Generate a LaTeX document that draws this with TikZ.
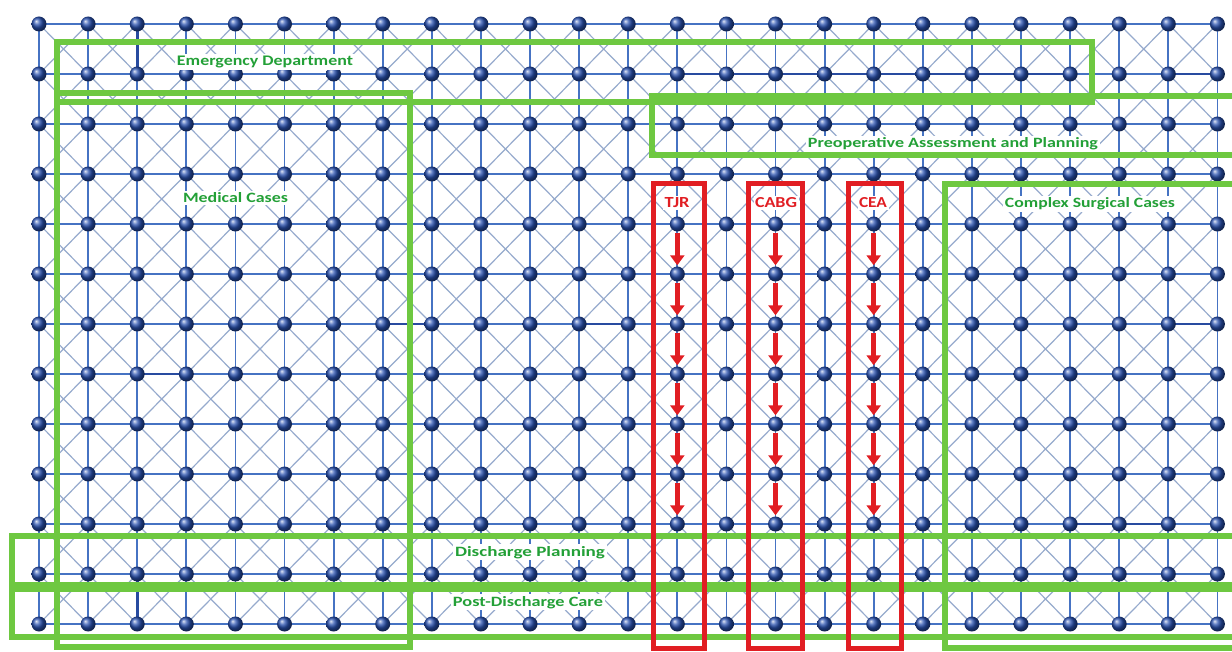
\documentclass[tikz,border=0pt]{standalone}
\usepackage{fontspec}
\setmainfont{Carlito}
\usetikzlibrary{arrows.meta}
\definecolor{gridblue}{RGB}{70,115,195}
\definecolor{darkgrid}{RGB}{40,75,160}
\definecolor{diagblue}{RGB}{150,170,205}
\definecolor{ballblue}{RGB}{40,80,175}
\definecolor{boxgreen}{RGB}{110,200,65}
\definecolor{txtgreen}{RGB}{35,160,55}
\definecolor{boxred}{RGB}{225,30,35}
\begin{document}
\begin{tikzpicture}[x=1pt,y=-1pt,
  gridline/.style={draw=gridblue,line width=1.8pt},
  darkline/.style={draw=darkgrid,line width=2.6pt},
  diagline/.style={draw=diagblue,line width=1.2pt},
  ball/.style={circle,inner sep=0pt,minimum size=15pt,shading=ball,ball color=ballblue},
  greenbox/.style={draw=boxgreen,line width=6pt},
  redbox/.style={draw=boxred,line width=5pt},
  grlabel/.style={fill=white,text=txtgreen,font=\bfseries,inner sep=2pt,anchor=base},
  rdlabel/.style={fill=white,text=boxred,font=\bfseries,inner sep=1.5pt,anchor=base},
  flow/.style={draw=boxred,line width=5.5pt,-{Triangle[width=14pt,length=10pt]},shorten <=1pt,shorten >=1pt}
]
\useasboundingbox (0,0) rectangle (1232,652);
\fill[white] (0,0) rectangle (1232,652);
% grid coordinates
\foreach \k in {0,...,24}{
  \foreach \r in {0,...,12}{
    \coordinate (c-\k-\r) at ({39+49.1*\k},{24+50*\r});
  }}
% diagonals
\foreach \k [evaluate=\k as \kn using int(\k+1)] in {0,...,23}{
  \foreach \r [evaluate=\r as \rn using int(\r+1)] in {0,...,11}{
    \draw[diagline] (c-\k-\r) -- (c-\kn-\rn);
    \draw[diagline] (c-\kn-\r) -- (c-\k-\rn);
  }}
% horizontal lines
\foreach \k [evaluate=\k as \kn using int(\k+1)] in {0,...,23}{
  \foreach \r in {0,...,12}{
    \draw[gridline] (c-\k-\r) -- (c-\kn-\r);
  }}
% vertical lines
\foreach \k in {0,...,24}{
  \foreach \r [evaluate=\r as \rn using int(\r+1)] in {0,...,11}{
    \draw[gridline] (c-\k-\r) -- (c-\k-\rn);
  }}
% a few darker links
\draw[darkline] (c-13-1) -- (c-21-1);
\draw[darkline] (c-23-1) -- (c-24-1);
\draw[darkline] (c-2-0) -- (c-2-1);
\draw[darkline] (c-2-7) -- (c-3-7);
\draw[darkline] (c-7-6) -- (c-8-6);
\draw[darkline] (c-8-3) -- (c-9-3);
\draw[darkline] (c-11-6) -- (c-12-6);
\draw[darkline] (c-23-6) -- (c-24-6);
\draw[darkline] (c-2-11) -- (c-2-12);
\draw[darkline] (c-21-10) -- (c-23-10);
% balls
\foreach \k in {0,...,24}{
  \foreach \r in {0,...,12}{
    \node[ball] (n-\k-\r) at (c-\k-\r) {};
  }}
% green labels
\node[grlabel] (edl) at (265,66) {\resizebox{176pt}{9.5pt}{Emergency Department}};
\node[grlabel] (mcl) at (235.5,203) {\resizebox{105pt}{10pt}{Medical Cases}};
\node[grlabel] (pal) at (953,148) {\resizebox{290pt}{10pt}{Preoperative Assessment and Planning}};
\node[grlabel] (csl) at (1090,208) {\resizebox{170pt}{10pt}{Complex Surgical Cases}};
\node[grlabel] (dpl) at (530,556) {\resizebox{150pt}{10pt}{Discharge Planning}};
\node[grlabel] (pdl) at (528,606) {\resizebox{150pt}{10pt}{Post-Discharge Care}};
% green boxes
\draw[greenbox] (57,42) rectangle (1092,102);
\draw[greenbox] (57,93) rectangle (410,647);
\draw[greenbox] (652,96) rectangle (1250,155);
\draw[greenbox] (945,184) rectangle (1250,648);
\draw[greenbox] (12,536) rectangle (1250,585);
\draw[greenbox] (12,589) rectangle (1250,637);
% red boxes
\draw[redbox] (653,184) rectangle (704,648);
\draw[redbox] (748,184) rectangle (802,648);
\draw[redbox] (848,184) rectangle (901,648);
% red flows
\foreach \k in {13,15,17}{
  \foreach \r [evaluate=\r as \rn using int(\r+1)] in {4,...,9}{
    \draw[flow] (n-\k-\r) -- (n-\k-\rn);
  }}
% red labels
\node[rdlabel] (tjr) at (677,208) {\resizebox{25pt}{10pt}{TJR}};
\node[rdlabel] (cabg) at (776,208) {\resizebox{42pt}{10pt}{CABG}};
\node[rdlabel] (cea) at (873,208) {\resizebox{28pt}{10pt}{CEA}};
\end{tikzpicture}
\end{document}
